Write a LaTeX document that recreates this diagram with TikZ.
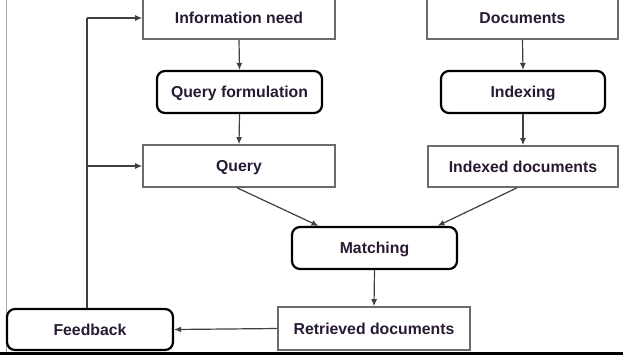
\documentclass[tikz,border=0pt]{standalone}
\usepackage{fontspec}
\setmainfont{Liberation Sans}
\usetikzlibrary{arrows.meta,calc}
\definecolor{txt}{rgb}{0.16,0.10,0.20}
\definecolor{rectline}{gray}{0.42}
\definecolor{conn}{gray}{0.25}
\begin{document}
\begin{tikzpicture}[x=1pt,y=-1pt,
  lbl/.style={font=\fontsize{15.8}{18}\selectfont\bfseries, text=txt, inner sep=0pt, align=center, text height=11.5pt, text depth=0.2pt},
  plainbox/.style={lbl, draw=rectline, line width=1.6pt, rectangle},
  procbox/.style={lbl, draw=black, line width=2.2pt, rectangle, rounded corners=8pt},
  conarrow/.style={draw=conn, line width=1.2pt, -{Latex[length=7pt,width=6pt]}},
  conline/.style={draw=conn, line width=1.2pt}]
\useasboundingbox (0,0) rectangle (623,357);
\fill[white] (0,0) rectangle (623,357);
% frame lines
\draw[gray!70, line width=1pt] (6,0) -- (6,352);
\draw[black, line width=2.5pt] (0,353.5) -- (623,353.5);
% nodes
\node[plainbox, minimum width=192pt, minimum height=42pt] (info) at (239,18) {Information need};
\node[procbox, minimum width=165pt, minimum height=42pt] (qf) at (239.5,92) {Query formulation};
\node[plainbox, minimum width=192pt, minimum height=42pt] (query) at (239,166) {Query};
\node[plainbox, minimum width=191pt, minimum height=42pt] (docs) at (522.5,18) {Documents};
\node[procbox, minimum width=164pt, minimum height=42pt] (idx) at (523,92) {Indexing};
\node[plainbox, minimum width=190pt, minimum height=41pt] (idxd) at (523,166.5) {Indexed documents};
\node[procbox, minimum width=165pt, minimum height=42pt] (match) at (374.5,248) {Matching};
\node[plainbox, minimum width=192pt, minimum height=43pt] (ret) at (374,328.5) {Retrieved documents};
\node[procbox, minimum width=166pt, minimum height=41pt] (fb) at (90,329.5) {Feedback};
% connectors
\draw[conarrow] (info.south) -- (qf.north);
\draw[conarrow] (qf.south) -- (query.north);
\draw[conarrow] (docs.south) -- (idx.north);
\draw[conarrow] (idx.south) -- (idxd.north);
\draw[conarrow] ($(query.south)+(-2,0)$) -- ($(match.north)+(-56,0)$);
\draw[conarrow] ($(idxd.south)+(-6,0)$) -- ($(match.north)+(63,0)$);
\draw[conarrow] (match.south) -- (ret.north);
\draw[conarrow] (ret.west) -- (fb.east);
\coordinate (fbtop) at ($(fb.north)+(-3,0)$);
\coordinate (corner) at (fbtop |- info.west);
\coordinate (branch) at (fbtop |- query.west);
\draw[conline] (fbtop) -- (corner);
\draw[conarrow] (corner) -- (info.west);
\draw[conarrow] (branch) -- (query.west);
\end{tikzpicture}
\end{document}
